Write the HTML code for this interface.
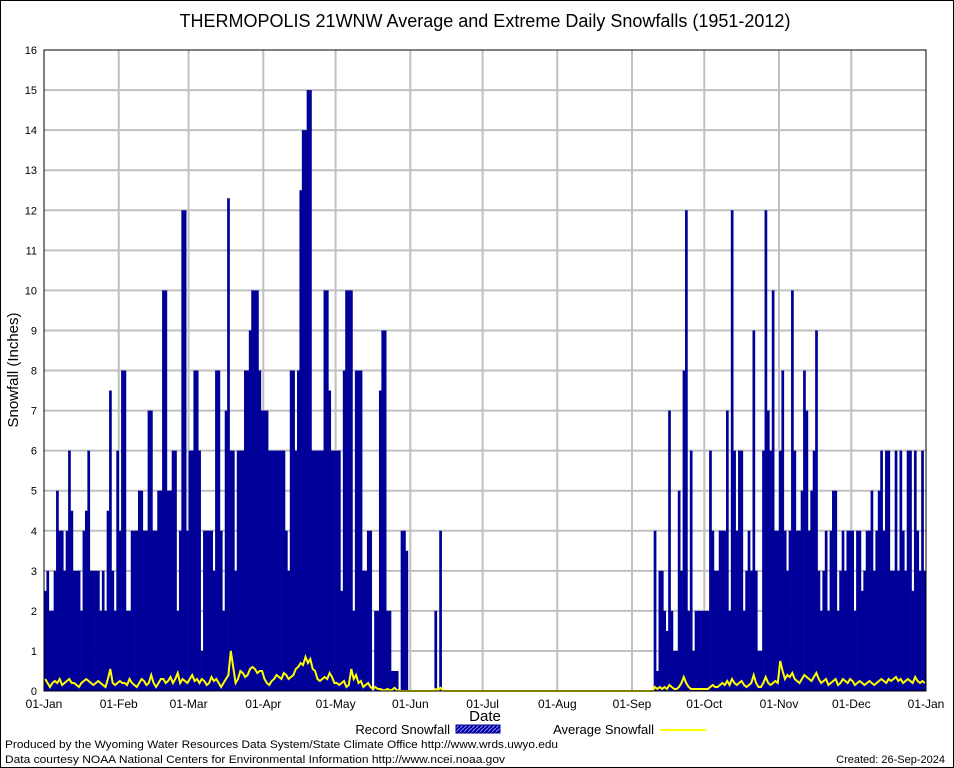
<!DOCTYPE html>
<html><head><meta charset="utf-8"><style>
html,body{margin:0;padding:0;background:#fff}
svg{display:block}
text{font-family:"Liberation Sans","DejaVu Sans",sans-serif}
</style></head><body>
<svg id="chart" width="954" height="768" viewBox="0 0 954 768" xmlns="http://www.w3.org/2000/svg">
<defs><pattern id="hatch" width="4" height="4" patternUnits="userSpaceOnUse"><rect width="4" height="4" fill="#000099"/><path d="M0 4L4 0" stroke="#8888ff" stroke-width="1"/></pattern></defs>
<rect x="0.5" y="0.5" width="953" height="767" fill="#fff" stroke="#000"/>
<text x="485" y="27" font-size="18" text-anchor="middle">THERMOPOLIS 21WNW Average and Extreme Daily Snowfalls (1951-2012)</text>
<g id="grid"></g>
<g id="bars"></g>
<polyline id="avg" fill="none" stroke="#ffff00" stroke-width="2"/>
<g id="axes"></g>
<text x="18" y="370" font-size="15" text-anchor="middle" transform="rotate(-90 18 370)">Snowfall (Inches)</text>
<text x="485" y="721" font-size="15" text-anchor="middle">Date</text>
<g>
<text x="450" y="734" font-size="13" text-anchor="end">Record Snowfall</text>
<rect x="456" y="725" width="44" height="8" fill="url(#hatch)" stroke="#000099"/>
<text x="654" y="734" font-size="13" text-anchor="end">Average Snowfall</text>
<line x1="660" y1="730" x2="706" y2="730" stroke="#ffff00" stroke-width="2"/>
</g>
<text x="5" y="748" font-size="11" textLength="553" lengthAdjust="spacingAndGlyphs">Produced by the Wyoming Water Resources Data System/State Climate Office http://www.wrds.uwyo.edu</text>
<text x="5" y="763" font-size="11" textLength="500" lengthAdjust="spacingAndGlyphs">Data courtesy NOAA National Centers for Environmental Information http://www.ncei.noaa.gov</text>
<text x="945" y="763" font-size="11" text-anchor="end">Created: 26-Sep-2024</text>
</svg>
<script>
const monthLabels=["01-Jan","01-Feb","01-Mar","01-Apr","01-May","01-Jun","01-Jul","01-Aug","01-Sep","01-Oct","01-Nov","01-Dec","01-Jan"];
const monthDays=[31,29,31,30,31,30,31,31,30,31,30,31];
const yTicks=[0,1,2,3,4,5,6,7,8,9,10,11,12,13,14,15,16];
const recJan=[2.5,3,2,2,3,5,4,4,3,4,6,4.5,3,3,3,2,4,4.5,6,3,3,3,3,2,3,2,4.5,7.5,3,2,6];
const recFeb=[4,8,8,2,2,4,4,4,5,5,4,4,7,7,4,4,5,5,10,10,5,5,6,6,2,4,12,12,4];
const recMar=[6,6,8,8,6,1,4,4,4,4,3,8,8,4,2,7,12.3,6,6,3,6,6,6,8,8,9,10,10,10,8,7];
const recApr=[7,7,6,6,6,6,6,6,6,4,3,8,8,6,8,12.5,14,14,15,15,6,6,6,6,6,10,10,7.5,6,6];
const recMay=[6,6,2.5,8,10,10,10,2,8,8,8,3,3,4,4,0,2,2,7.5,9,9,2,2,0.5,0.5,0.5,0,4,4,3.5,0];
const recJun=[0,0,0,0,0,0,0,0,0,0,2,0,4,0,0,0,0,0,0,0,0,0,0,0,0,0,0,0,0,0];
const recJul=[0,0,0,0,0,0,0,0,0,0,0,0,0,0,0,0,0,0,0,0,0,0,0,0,0,0,0,0,0,0,0];
const recAug=[0,0,0,0,0,0,0,0,0,0,0,0,0,0,0,0,0,0,0,0,0,0,0,0,0,0,0,0,0,0,0];
const recSep=[0,0,0,0,0,0,0,0,0,4,0.5,3,3,2,1.5,7,2,1,1,5,3,8,12,2,6,1,2,2,2,2];
const recOct=[2,2,6,4,3,3,4,4,4,7,2,12,6,4,6,6,2,3,4,3,9,3,1,1,6,12,7,6,10,4,4];
const recNov=[6,8,4,3,4,10,6,4,4,5,8,7,4,5,6,9,3,2,3,4,2,4,5,5,2,3,4,3,4,4];
const recDec=[4,2,4,4,2.5,3,4,4,5,3,4,5,6,4,6,6,3,3,6,3,6,4,3,6,6,2.5,6,4,3,6,3];
const avgJan=[0.3,0.2,0.1,0.2,0.25,0.2,0.3,0.15,0.2,0.25,0.3,0.2,0.2,0.15,0.1,0.2,0.25,0.3,0.25,0.2,0.15,0.2,0.25,0.2,0.15,0.1,0.3,0.55,0.2,0.15,0.2];
const avgFeb=[0.25,0.2,0.2,0.15,0.3,0.2,0.15,0.1,0.2,0.3,0.25,0.15,0.2,0.4,0.2,0.1,0.2,0.3,0.3,0.2,0.25,0.35,0.2,0.3,0.45,0.2,0.3,0.25,0.2];
const avgMar=[0.3,0.4,0.25,0.3,0.2,0.3,0.25,0.15,0.2,0.35,0.25,0.3,0.2,0.1,0.2,0.3,0.4,1.0,0.6,0.2,0.3,0.5,0.45,0.35,0.4,0.55,0.6,0.55,0.45,0.5,0.5];
const avgApr=[0.3,0.2,0.15,0.25,0.3,0.4,0.35,0.3,0.45,0.4,0.3,0.35,0.4,0.55,0.6,0.7,0.65,0.85,0.7,0.8,0.55,0.5,0.3,0.25,0.3,0.35,0.3,0.45,0.35,0.2];
const avgMay=[0.2,0.15,0.2,0.25,0.1,0.15,0.55,0.3,0.4,0.2,0.25,0.1,0.15,0.2,0.1,0.05,0.1,0.05,0.05,0.02,0.02,0.05,0.02,0.03,0.08,0.02,0.01,0,0,0,0];
const avgJun=[0,0,0,0,0,0,0,0,0,0,0.05,0.02,0.08,0.02,0,0,0,0,0,0,0,0,0,0,0,0,0,0,0,0];
const avgJul=[0,0,0,0,0,0,0,0,0,0,0,0,0,0,0,0,0,0,0,0,0,0,0,0,0,0,0,0,0,0,0];
const avgAug=[0,0,0,0,0,0,0,0,0,0,0,0,0,0,0,0,0,0,0,0,0,0,0,0,0,0,0,0,0,0,0];
const avgSep=[0,0,0,0,0,0,0,0,0,0.1,0.05,0.1,0.05,0.1,0.05,0.15,0.1,0.05,0.05,0.1,0.2,0.35,0.2,0.1,0.05,0.05,0.05,0.05,0.05,0.05];
const avgOct=[0.05,0.05,0.1,0.15,0.1,0.1,0.15,0.2,0.15,0.25,0.15,0.3,0.2,0.15,0.2,0.25,0.15,0.1,0.15,0.2,0.4,0.2,0.1,0.1,0.2,0.35,0.2,0.15,0.2,0.25,0.2];
const avgNov=[0.75,0.5,0.3,0.4,0.35,0.45,0.3,0.25,0.2,0.3,0.4,0.35,0.3,0.25,0.35,0.45,0.3,0.2,0.25,0.3,0.15,0.2,0.25,0.3,0.15,0.2,0.3,0.25,0.2,0.3];
const avgDec=[0.25,0.15,0.2,0.25,0.2,0.15,0.2,0.25,0.2,0.15,0.2,0.25,0.3,0.25,0.2,0.3,0.25,0.3,0.35,0.25,0.3,0.2,0.25,0.3,0.25,0.2,0.35,0.25,0.2,0.25,0.2];

const record=[].concat(recJan,recFeb,recMar,recApr,recMay,recJun,recJul,recAug,recSep,recOct,recNov,recDec);
const average=[].concat(avgJan,avgFeb,avgMar,avgApr,avgMay,avgJun,avgJul,avgAug,avgSep,avgOct,avgNov,avgDec);
const NS="http://www.w3.org/2000/svg";
const X0=44,X1=926,Y0=691,Y1=50,NDAYS=366;
const xS=d=>X0+d*(X1-X0)/NDAYS;
const yS=v=>Y0-v*(Y0-Y1)/16;
function mk(tag,attrs,parent){const e=document.createElementNS(NS,tag);for(const k in attrs)e.setAttribute(k,attrs[k]);parent.appendChild(e);return e;}
const grid=document.getElementById('grid'),axes=document.getElementById('axes'),bars=document.getElementById('bars');
yTicks.forEach(t=>{
  if(t>0&&t<16){const l=mk('line',{x1:X0,x2:X1,y1:yS(t),y2:yS(t),stroke:'#c0c0c0','stroke-width':2},grid);
  
  }
  const tx=mk('text',{x:X0-7,y:yS(t)+4,'font-size':11,'text-anchor':'end','font-family':'Liberation Serif, serif'},axes);
  tx.textContent=t;
  
  
});
let cum=0;
monthLabels.forEach((m,i)=>{
  const x=xS(cum);
  if(i>0&&i<12){const l=mk('line',{x1:x,x2:x,y1:Y1,y2:Y0,stroke:'#c0c0c0','stroke-width':2},grid);
  
  }
  const tx=mk('text',{x:x,y:708,'font-size':12,'text-anchor':'middle','font-family':'Liberation Serif, serif'},axes);
  tx.textContent=m;
  
  
  if(i<12)cum+=monthDays[i];
});
record.forEach((v,d)=>{
  if(v<=0)return;
  const r=mk('rect',{x:xS(d),y:yS(v),width:(X1-X0)/NDAYS+0.3,height:Y0-yS(v),fill:'#000099'},bars);
  
  
});
document.getElementById('avg').setAttribute('points',average.map((v,d)=>xS(d+0.5).toFixed(1)+','+yS(v).toFixed(1)).join(' '));
const box=mk('rect',{x:X0,y:Y1,width:X1-X0,height:Y0-Y1,fill:'none',stroke:'#000','stroke-width':1},axes);


</script>
</body></html>
